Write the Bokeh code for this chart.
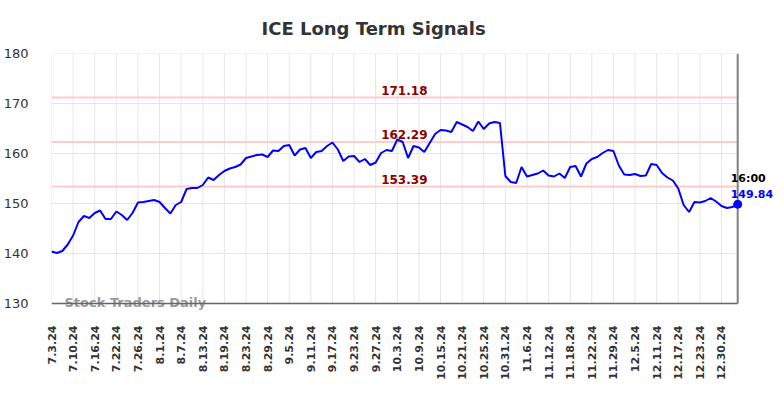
import math
from bokeh.plotting import figure
from bokeh.models import Range1d, Label, FixedTicker
from bokeh.embed import file_html
from bokeh.resources import INLINE

title_text = "ICE Long Term Signals"
watermark = "Stock Traders Daily"
last_time = "16:00"

prices = [
    140.4, 140.1, 140.5, 141.8, 143.6, 146.3, 147.5, 147.1, 148.1, 148.6,
    146.9, 146.9, 148.4, 147.7, 146.7, 148.1, 150.2, 150.3, 150.5, 150.7,
    150.3, 149.1, 148.0, 149.7, 150.3, 152.9, 153.1, 153.1, 153.7, 155.2,
    154.7, 155.7, 156.5, 157.0, 157.3, 157.8, 159.1, 159.4, 159.7, 159.8,
    159.3, 160.6, 160.5, 161.5, 161.7, 159.6, 160.8, 161.1, 159.1, 160.3,
    160.5, 161.5, 162.2, 160.8, 158.5, 159.4, 159.5, 158.3, 158.9, 157.7,
    158.2, 160.1, 160.7, 160.5, 162.8, 162.3, 159.1, 161.5, 161.2, 160.3,
    162.1, 163.9, 164.7, 164.6, 164.3, 166.3, 165.8, 165.3, 164.5, 166.4,
    164.9, 166.0, 166.3, 166.1, 155.5, 154.3, 154.1, 157.3, 155.4, 155.7,
    156.0, 156.6, 155.6, 155.4, 156.0, 155.1, 157.3, 157.5, 155.4, 158.0,
    158.9, 159.3, 160.1, 160.7, 160.5, 157.6, 155.8, 155.7, 155.9, 155.5,
    155.6, 157.9, 157.7, 156.1, 155.2, 154.6, 153.0, 149.7, 148.3, 150.3,
    150.2, 150.5, 151.1, 150.4, 149.5, 149.1, 149.3, 149.84,
]

tick_labels = [
    "7.3.24", "7.10.24", "7.16.24", "7.22.24", "7.26.24", "8.1.24", "8.7.24",
    "8.13.24", "8.19.24", "8.23.24", "8.29.24", "9.5.24", "9.11.24", "9.17.24",
    "9.23.24", "9.27.24", "10.3.24", "10.9.24", "10.15.24", "10.21.24",
    "10.25.24", "10.31.24", "11.6.24", "11.12.24", "11.18.24", "11.22.24",
    "11.29.24", "12.5.24", "12.11.24", "12.17.24", "12.23.24", "12.30.24",
]
tick_step = 4

levels = [171.18, 162.29, 153.39]
y_ticks = [130, 140, 150, 160, 170, 180]

FONT = "DejaVu Sans"

xs = list(range(len(prices)))
last = len(prices) - 1
y_lo, y_hi = y_ticks[0], y_ticks[-1]

# plot area: data part 689 px wide, extra room on the right for the end labels
data_px = 689
frame_px = 736
x_end = last * frame_px / data_px

p = figure(width=784, height=398, output_backend="svg", toolbar_location=None,
           x_range=Range1d(0, x_end), y_range=Range1d(y_lo - 2, y_hi),
           min_border_left=48, min_border_right=0,
           min_border_top=53, min_border_bottom=85)
p.outline_line_color = None
p.background_fill_color = "white"
p.border_fill_color = "white"
p.xgrid.visible = False
p.ygrid.visible = False

# title
p.title.text = title_text
p.title.text_font = FONT
p.title.text_font_size = "18px"
p.title.text_font_style = "bold"
p.title.text_color = "#333333"
p.title.align = "left"
p.title.offset = 210
p.title.standoff = 30

# axes
tick_pos = [i * tick_step for i in range(len(tick_labels))]
p.xaxis.ticker = FixedTicker(ticks=tick_pos)
p.xaxis.major_label_overrides = {tp: lab for tp, lab in zip(tick_pos, tick_labels)}
p.xaxis.major_label_orientation = math.pi / 2
p.xaxis.major_label_text_font = FONT
p.xaxis.major_label_text_font_size = "11px"
p.xaxis.major_label_text_font_style = "bold"
p.xaxis.major_label_text_color = "#333333"
p.xaxis.major_label_standoff = 6
p.xaxis.major_tick_line_color = None
p.xaxis.minor_tick_line_color = None
p.xaxis.axis_line_color = None

p.yaxis.ticker = FixedTicker(ticks=y_ticks)
p.yaxis.major_label_text_font = FONT
p.yaxis.major_label_text_font_size = "13px"
p.yaxis.major_label_text_color = "#333333"
p.yaxis.major_label_standoff = 17
p.yaxis.major_tick_line_color = None
p.yaxis.minor_tick_line_color = None
p.yaxis.axis_line_color = None

# grid lines limited to the data area
gy = y_ticks[1:]
r = p.segment(x0=[0] * len(gy), y0=gy, x1=[last] * len(gy), y1=gy,
              line_color="#e6e6e6", line_width=1)
r.level = "underlay"
r = p.segment(x0=tick_pos, y0=[y_lo] * len(tick_pos), x1=tick_pos,
              y1=[y_hi] * len(tick_pos), line_color="#e6e6e6", line_width=1)
r.level = "underlay"

# level lines
r = p.segment(x0=[0] * len(levels), y0=levels, x1=[last] * len(levels), y1=levels,
              line_color="#ffcccc", line_width=2)
r.level = "underlay"
for lvl in levels:
    p.add_layout(Label(x=65.3, y=lvl, text=f"{lvl:.2f}", text_align="center",
                       text_baseline="bottom", y_offset=3, text_font=FONT,
                       text_font_size="12px", text_font_style="bold",
                       text_color="#8b0000"))

# bottom axis line and right edge marker
p.segment(x0=[0], y0=[y_lo], x1=[last], y1=[y_lo], line_color="#666666", line_width=1.5)
p.segment(x0=[last], y0=[y_lo], x1=[last], y1=[y_hi], line_color="#808080", line_width=2)

# watermark
p.add_layout(Label(x=0, y=y_lo, text=watermark, x_offset=13, y_offset=1.5,
                   text_baseline="middle", text_font=FONT, text_font_size="13px",
                   text_font_style="bold", text_color="#999999", level="underlay"))

# price line
p.line(xs, prices, line_color="#0000ff", line_width=2)
p.scatter([xs[-1]], [prices[-1]], size=8, color="#0000ff")

# last labels
p.add_layout(Label(x=xs[-1], y=prices[-1], text=f"{prices[-1]:.2f}",
                   x_offset=-7, y_offset=6, text_baseline="bottom",
                   text_font=FONT, text_font_size="11px", text_font_style="bold",
                   text_color="#0000ff"))
p.add_layout(Label(x=xs[-1], y=prices[-1], text=last_time,
                   x_offset=-7, y_offset=19, text_baseline="bottom",
                   text_font=FONT, text_font_size="11px", text_font_style="bold",
                   text_color="#000000"))

open("out.html", "w").write(file_html(p, INLINE))
